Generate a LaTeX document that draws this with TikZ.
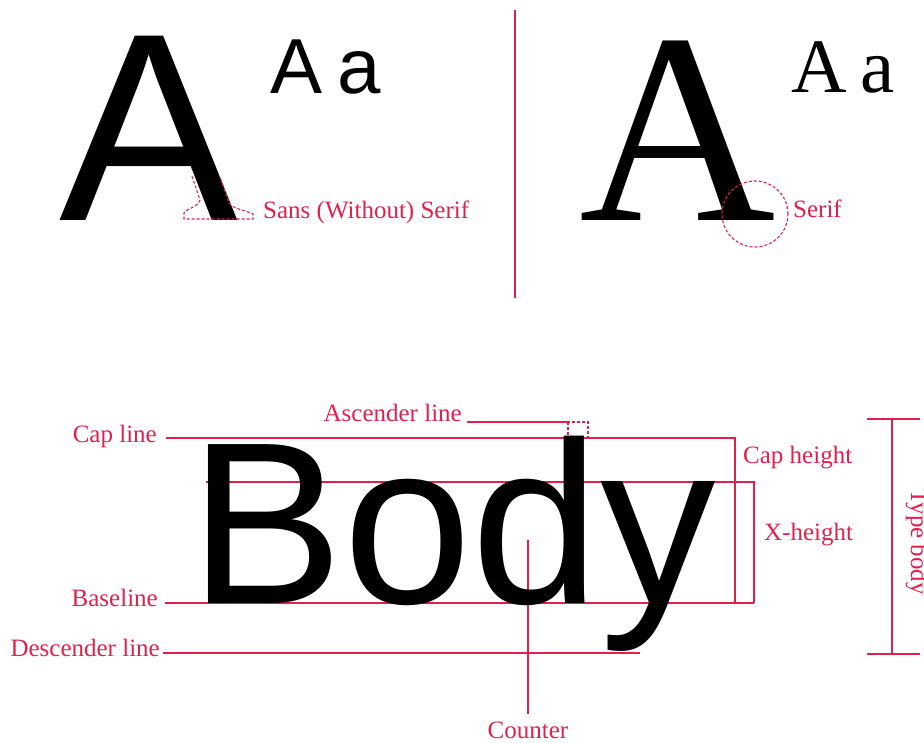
\documentclass[tikz,border=0pt]{standalone}
\usepackage{fontspec}
\setmainfont{Liberation Serif}
\newfontfamily\arialf{Liberation Sans}
\definecolor{redA}{RGB}{226,32,78}
\begin{document}
\begin{tikzpicture}[x=1pt,y=-1pt,
  lbl/.style={text=redA, font=\fontsize{25}{30}\selectfont, inner sep=0pt},
  rl/.style={draw=redA, line width=1.1pt},
  dsh/.style={draw=redA, line width=1.1pt, dash pattern=on 3pt off 2pt},
  glyph/.style={inner sep=0pt, anchor=base west, text=black}]
\useasboundingbox (0,0) rectangle (924,742);

% ---------- top: sans vs serif ----------
\node[glyph, font=\arialf\fontsize{268}{268}\selectfont] (bigA) at (59,220) {A};
\node[glyph, font=\arialf\fontsize{78}{78}\selectfont] (smA) at (270,93) {A};
\node[glyph, font=\arialf\fontsize{78}{78}\selectfont] (sma) at (337,93) {a};
\draw[dsh] (192,176) -- (200,200) .. controls (198,207) and (186,209) .. (184,213) -- (184,219)
  -- (253,219) -- (253,214) .. controls (245,210) and (233,209) .. (229,203) -- (220,177);
\node[lbl, anchor=base west] (sans) at (263,218) {Sans (Without) Serif};

\coordinate (divT) at (515,10);
\coordinate (divB) at (515,298);
\draw[rl] (divT) -- (divB);

\node[glyph, font=\fontsize{272}{272}\selectfont] (bigSA) at (579,220) {A};
\node[glyph, font=\fontsize{77}{77}\selectfont] (smSA) at (791,92) {A};
\node[glyph, font=\fontsize{77}{77}\selectfont] (smSa) at (860,92) {a};
\node[dsh, circle, minimum size=66pt, inner sep=0pt] (serifc) at (755,214) {};
\node[lbl, anchor=base west] (serif) at (793,217) {Serif};

% ---------- bottom: Body ----------
\node[lbl, anchor=base east] (capl) at (157,442) {Cap line};
\node[lbl, anchor=base east] (ascl) at (462,421) {Ascender line};
\node[lbl, anchor=base east] (basel) at (158,606) {Baseline};
\node[lbl, anchor=base east] (descl) at (160,656) {Descender line};
\node[lbl, anchor=base west] (caph) at (743,463) {Cap height};
\node[lbl, anchor=base west] (xh) at (764,540) {X-height};
\node[lbl, anchor=base] (counter) at (528,738) {Counter};
\node[lbl, anchor=base, rotate=-90] (tbody) at (911,542) {Type body};

\coordinate (c1) at (166,438);
\coordinate (c2) at (735,438);
\coordinate (c3) at (735,603);
\coordinate (x1) at (206,482);
\coordinate (x2) at (754,482);
\coordinate (x3) at (754,603);
\coordinate (b1) at (165,603);
\coordinate (a1) at (467,422);
\coordinate (a2) at (568,422);
\coordinate (a3) at (588,438);
\coordinate (d1) at (163,653);
\coordinate (d2) at (640,653);
\coordinate (k1) at (528,540);
\coordinate (k2) at (528,714);
\coordinate (t1) at (892,419);
\coordinate (t2) at (892,654);
\coordinate (t1l) at (867,419);
\coordinate (t1r) at (920,419);
\coordinate (t2l) at (867,654);
\coordinate (t2r) at (920,654);

\draw[rl] (c1) -- (c2) -- (c3);
\draw[rl] (x1) -- (x2) -- (x3);
\draw[rl] (b1) -- (x3);
\draw[rl] (a1) -- (a2);
\draw[dsh] (a2) rectangle (a3);
\draw[rl] (d1) -- (d2);
\draw[rl] (k1) -- (k2);
\draw[rl] (t1) -- (t2);
\draw[rl] (t1l) -- (t1r);
\draw[rl] (t2l) -- (t2r);

\node[glyph, font=\arialf\fontsize{231}{231}\selectfont] (body) at (189,603) {Body};
\end{tikzpicture}
\end{document}
